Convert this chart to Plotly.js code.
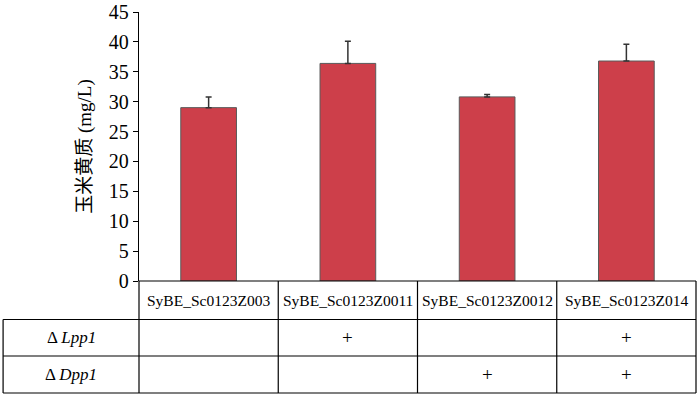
<!DOCTYPE html>
<html>
<head>
<meta charset="utf-8">
<script src="https://cdn.plot.ly/plotly-3.0.1.min.js"></script>
<style>html,body{margin:0;padding:0;background:#fff;}#chart{width:700px;height:398px;}</style>
</head>
<body>
<div id="chart"></div>
<script>
const strains = ["SyBE_Sc0123Z003", "SyBE_Sc0123Z0011", "SyBE_Sc0123Z0012", "SyBE_Sc0123Z014"];
const zeaxanthin = [29.0, 36.4, 30.8, 36.8];
const errorUp = [1.8, 3.7, 0.4, 2.8];
const rowLabels = ["Δ <i>Lpp1</i>", "Δ <i>Dpp1</i>"];
const lpp1 = ["", "+", "", "+"];
const dpp1 = ["", "", "+", "+"];
const tableRows = [lpp1, dpp1];
const yTicks = [0, 5, 10, 15, 20, 25, 30, 35, 40, 45];

const serif = "Liberation Serif";
const n = strains.length;

// table geometry (paper units, plot height 269px)
const ph = 269;
const rowY = [0, -38.5 / ph, -75 / ph, -112 / ph];
const leftEdge = -0.244;

const shapes = [];
const line = {color: "#000", width: 1.2};
shapes.push({type: "line", xref: "paper", yref: "paper", x0: 0, x1: 1, y0: rowY[0], y1: rowY[0], line});
for (let r = 1; r < rowY.length; r++) {
  shapes.push({type: "line", xref: "paper", yref: "paper", x0: leftEdge, x1: 1, y0: rowY[r], y1: rowY[r], line});
}
for (let i = 0; i <= n; i++) {
  shapes.push({type: "line", xref: "paper", yref: "paper", x0: i / n, x1: i / n, y0: rowY[0], y1: rowY[rowY.length - 1], line});
}
shapes.push({type: "line", xref: "paper", yref: "paper", x0: leftEdge, x1: leftEdge, y0: rowY[1], y1: rowY[rowY.length - 1], line});

const annotations = [];
strains.forEach((s, i) => {
  annotations.push({xref: "x", yref: "paper", x: i, y: (rowY[0] + rowY[1]) / 2, text: s, showarrow: false,
    font: {family: serif, size: 15.5, color: "#000"}, xanchor: "center", yanchor: "middle"});
});
tableRows.forEach((row, r) => {
  const yc = (rowY[r + 1] + rowY[r + 2]) / 2;
  annotations.push({xref: "paper", yref: "paper", x: (leftEdge + 0) / 2, y: yc, text: rowLabels[r], showarrow: false,
    font: {family: serif, size: 17, color: "#000"}, xanchor: "center", yanchor: "middle"});
  row.forEach((v, i) => {
    if (v) annotations.push({xref: "x", yref: "paper", x: i, y: yc, text: v, showarrow: false,
      font: {family: serif, size: 19, color: "#000"}, xanchor: "center", yanchor: "middle"});
  });
});

const trace = {
  type: "bar",
  x: strains.map((s, i) => i),
  y: zeaxanthin,
  marker: {color: "#CD3F4A", line: {color: "#5a5a5a", width: 1}},
  error_y: {type: "data", symmetric: false, array: errorUp, arrayminus: errorUp.map(() => 0),
    color: "#333", thickness: 1.5, width: 3},
  hoverinfo: "none"
};

const layout = {
  width: 700, height: 398,
  margin: {l: 139, r: 4, t: 12, b: 117},
  paper_bgcolor: "#fff", plot_bgcolor: "#fff",
  font: {family: serif, color: "#000"},
  bargap: 0.6,
  showlegend: false,
  xaxis: {range: [-0.5, n - 0.5], showticklabels: false, showgrid: false, zeroline: false, showline: false, ticks: "", fixedrange: true},
  yaxis: {range: [0, 45], tickvals: yTicks, ticktext: yTicks.map(String), ticklabeloverflow: "allow",
    showgrid: false, zeroline: false, showline: true, linecolor: "#000", linewidth: 1.2,
    ticks: "outside", ticklen: 5, tickcolor: "#000", tickwidth: 1,
    tickfont: {family: serif, size: 20, color: "#000"},
    title: {text: "玉米黄质 (mg/L)", font: {family: "Liberation Serif, Noto Sans CJK SC", size: 19, color: "#000"}, standoff: 12},
    fixedrange: true},
  shapes, annotations
};

Plotly.newPlot("chart", [trace], layout, {displayModeBar: false, staticPlot: true});
</script>
</body>
</html>
